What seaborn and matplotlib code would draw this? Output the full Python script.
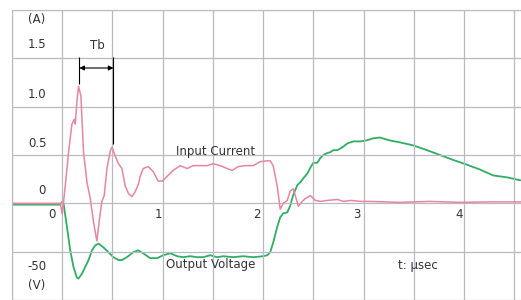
import pandas as pd
import numpy as np
import seaborn as sns
import matplotlib.pyplot as plt

# time axis in microseconds
t_cur = [-0.5, -0.2, -0.02, 0.0, 0.03, 0.063, 0.087, 0.097, 0.12, 0.13, 0.146, 0.162,
         0.186, 0.212, 0.246, 0.279, 0.311, 0.345, 0.371, 0.395, 0.418, 0.445, 0.478,
         0.495, 0.527, 0.56, 0.594, 0.627, 0.66, 0.694, 0.726, 0.759, 0.776, 0.806,
         0.856, 0.905, 0.955, 0.995, 1.045, 1.104, 1.174, 1.244, 1.303, 1.373, 1.443,
         1.502, 1.572, 1.642, 1.692, 1.751, 1.821, 1.90, 1.97, 2.04, 2.07, 2.10, 2.14,
         2.17, 2.20, 2.24, 2.27, 2.30, 2.32, 2.35, 2.39, 2.42, 2.47, 2.52, 2.57, 2.64,
         2.74, 2.80, 2.87, 2.97, 3.06, 3.36, 3.66, 3.96, 4.26, 4.57]
current = [0.0, 0.0, 0.0, -0.11, 0.18, 0.53, 0.74, 0.82, 0.87, 0.82, 1.05, 1.21,
           1.11, 0.53, 0.22, 0.05, -0.19, -0.39, -0.16, 0.02, 0.08, 0.36, 0.54,
           0.58, 0.49, 0.41, 0.36, 0.18, 0.10, 0.07, 0.12, 0.20, 0.28, 0.36,
           0.38, 0.33, 0.23, 0.23, 0.28, 0.34, 0.39, 0.36, 0.39, 0.39, 0.39,
           0.41, 0.39, 0.36, 0.34, 0.38, 0.39, 0.39, 0.43, 0.44, 0.44, 0.39, 0.18,
           -0.06, 0.0, 0.03, 0.13, 0.15, 0.08, -0.03, 0.02, 0.05, 0.08, 0.03, 0.02, 0.03,
           0.04, 0.02, 0.03, 0.02, 0.02, 0.01, 0.02, 0.01, 0.015, 0.015]

t_volt = [-0.5, -0.2, -0.02, 0.0, 0.013, 0.047, 0.08, 0.112, 0.146, 0.162, 0.196, 0.229,
          0.262, 0.296, 0.328, 0.361, 0.411, 0.461, 0.51, 0.56, 0.594, 0.644, 0.706,
          0.756, 0.806, 0.876, 0.945, 1.005, 1.075, 1.144, 1.204, 1.274, 1.343, 1.403,
          1.473, 1.542, 1.602, 1.701, 1.801, 1.90, 2.00, 2.04, 2.07, 2.10, 2.14, 2.17,
          2.20, 2.24, 2.27, 2.30, 2.34, 2.37, 2.40, 2.44, 2.47, 2.50, 2.54, 2.57, 2.60,
          2.64, 2.67, 2.70, 2.74, 2.79, 2.84, 2.90, 2.97, 3.03, 3.09, 3.16, 3.26, 3.36,
          3.49, 3.63, 3.76, 3.89, 4.03, 4.16, 4.29, 4.43, 4.56]
voltage = [0, 0, 0, 3, 1.5, -23, -47, -64, -75, -76, -71, -64,
           -57, -47, -42, -40, -44, -49, -54, -57, -57, -54, -49,
           -47, -50, -55, -55, -52, -50, -53, -54, -53, -54, -54,
           -52, -54, -53, -54, -53, -54, -53, -52, -49, -39, -23, -13,
           -9, -8, -1, 10, 20, 23, 27, 32, 38, 43, 43, 48, 51,
           53, 54, 56, 56, 59, 63, 65, 65, 66, 68, 69, 66, 64,
           61, 56, 51, 46, 41, 36, 30, 28, 25]

current_labels = ['1.5', '1.0', '0.5', '0']
time_labels = ['0', '1', '2', '3', '4']
tb_start, tb_end = 0.17, 0.51

df_i = pd.DataFrame({'t': t_cur, 'I': current})
df_v = pd.DataFrame({'t': t_volt, 'V': voltage})

sns.set_style('white')
fig = plt.figure(figsize=(5.21, 3.0), dpi=100)
ax = fig.add_axes([12 / 521, 0, 1 - 12 / 521, 1 - 10 / 300])
ax2 = ax.twinx()

grid_c = '#b9b9c6'
ax.set_xlim(-0.5, 4.567)
ax.set_ylim(-0.98, 2.0)
ax2.set_ylim(-98, 200)
ax.set_xticks(np.arange(-0.5, 4.6, 0.5))
ax.set_yticks(np.arange(-1.0, 2.01, 0.5))
ax.grid(True, color=grid_c, lw=0.9)
ax.tick_params(length=0, labelleft=False, labelbottom=False)
ax2.set_yticks([])
for a in (ax, ax2):
    for s in a.spines.values():
        s.set_visible(False)
ax.spines['left'].set_visible(True)
ax.spines['left'].set_color(grid_c)
ax.spines['top'].set_visible(True)
ax.spines['top'].set_color(grid_c)

sns.lineplot(data=df_v, x='t', y='V', ax=ax2, color='#2fae63', lw=1.3, estimator=None)
sns.lineplot(data=df_i, x='t', y='I', ax=ax, color='#e7869f', lw=1.1, estimator=None)
ax.set_zorder(ax2.get_zorder() + 1)
ax.patch.set_visible(False)
ax.set_xlabel('')
ax.set_ylabel('')
ax2.set_ylabel('')

fs = 8.5
tc = '#333333'
ax.text(-0.25, 1.90, '(A)', ha='center', va='center', fontsize=fs, color=tc)
for lab, yy in zip(current_labels, [1.64, 1.13, 0.62, 0.13]):
    ax.text(-0.25 if lab != '0' else -0.2, yy, lab, ha='center', va='center', fontsize=fs, color=tc)
for lab, xx in zip(time_labels, [-0.1, 0.955, 1.94, 2.935, 3.95]):
    ax.text(xx, -0.115, lab, ha='center', va='center', fontsize=fs, color=tc)
ax.text(-0.25, -0.65, '-50', ha='center', va='center', fontsize=fs, color=tc)
ax.text(-0.25, -0.85, '(V)', ha='center', va='center', fontsize=fs, color=tc)
ax.text(0.35, 1.63, 'Tb', ha='center', va='center', fontsize=fs, color=tc)
ax.text(1.53, 0.54, 'Input Current', ha='center', va='center', fontsize=fs, color=tc)
ax.text(1.48, -0.63, 'Output Voltage', ha='center', va='center', fontsize=fs, color=tc)
ax.text(3.54, -0.64, 't: µsec', ha='center', va='center', fontsize=fs, color=tc)

# Tb marker
ax.vlines(tb_start, 1.23, 1.51, color='black', lw=0.8)
ax.vlines(tb_end, 0.61, 1.51, color='black', lw=0.8)
ax.annotate('', xy=(tb_start, 1.40), xytext=(tb_end, 1.40),
            arrowprops=dict(arrowstyle='<|-|>', color='black', lw=0.8, mutation_scale=7,
                            shrinkA=0, shrinkB=0))

fig.savefig('out.png', dpi=100)
